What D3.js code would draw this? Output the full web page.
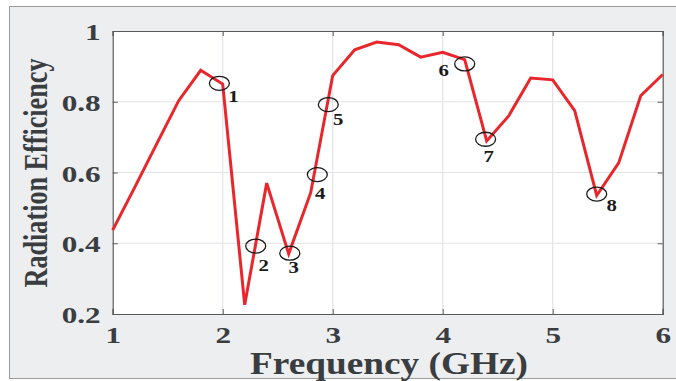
<!DOCTYPE html>
<html>
<head>
<meta charset="utf-8">
<script src="https://cdn.jsdelivr.net/npm/d3@7"></script>
<style>
  html, body { margin: 0; padding: 0; background: #fff; }
  svg { display: block; }
</style>
</head>
<body>
<svg id="mainSVG" width="676" height="381"></svg>
<script>
// data
var freq = [1.0, 1.2, 1.4, 1.6, 1.8, 2.0, 2.2, 2.4, 2.6, 2.8, 3.0, 3.2, 3.4,
            3.6, 3.8, 4.0, 4.2, 4.4, 4.6, 4.8, 5.0, 5.2, 5.4, 5.6, 5.8, 6.0];
var efficiency = [0.437, 0.558, 0.681, 0.803, 0.889, 0.850, 0.226, 0.570, 0.370, 0.543,
                  0.874, 0.947, 0.969, 0.961, 0.926, 0.940, 0.919, 0.689, 0.760, 0.867,
                  0.862, 0.775, 0.535, 0.627, 0.817, 0.877];

// circled points and their numbers
var markFreq = [1.97, 2.30, 2.61, 2.86, 2.96, 4.20, 4.39, 5.40];
var markEff = [0.852, 0.392, 0.372, 0.594, 0.792, 0.907, 0.694, 0.539];
var markLabel = ["1", "2", "3", "4", "5", "6", "7", "8"];
// label offset from circle centre (px)
var labelDx = [14, 8, 4, 3, 10, -21, 3, 15];
var labelDy = [19, 25, 20, 24, 20, 12, 23, 17];

var xTicks = [1, 2, 3, 4, 5, 6];
var yTicks = [0.2, 0.4, 0.6, 0.8, 1];

var margin = {left: 112.7, right: 13.3, top: 31, bottom: 67};
var W = 676, H = 381;
var stretch = 1.3;   // the source figure is stretched sideways
var serif = "Liberation Serif, Times New Roman, serif";

var svg = d3.select("#mainSVG");

// grey panel
svg.append("rect")
  .attr("x", 9.5).attr("y", 6.5)
  .attr("width", 680).attr("height", 372)
  .attr("fill", "#edeef0")
  .attr("stroke", "#9a9a9a").attr("stroke-width", 1);

var x = d3.scaleLinear().domain([1, 6]).range([margin.left, W - margin.right]);
var y = d3.scaleLinear().domain([0.2, 1]).range([H - margin.bottom, margin.top]);

svg.append("rect")
  .attr("x", x(1)).attr("y", y(1))
  .attr("width", x(6) - x(1)).attr("height", y(0.2) - y(1))
  .attr("fill", "#fff");

// grid
var grid = svg.append("g");
grid.selectAll(".gx").data(xTicks.slice(1, -1)).enter().append("line")
  .attr("x1", function(d){ return x(d); }).attr("x2", function(d){ return x(d); })
  .attr("y1", y(0.2)).attr("y2", y(1))
  .attr("stroke", "#e2e3e6").attr("stroke-width", 1.2);
grid.selectAll(".gy").data(yTicks.slice(1, -1)).enter().append("line")
  .attr("y1", function(d){ return y(d); }).attr("y2", function(d){ return y(d); })
  .attr("x1", x(1)).attr("x2", x(6))
  .attr("stroke", "#e2e3e6").attr("stroke-width", 1.2);

// axes (ticks inward, MATLAB style)
var xAxis = svg.append("g")
  .attr("transform", "translate(0," + y(0.2) + ")")
  .call(d3.axisBottom(x).tickValues(xTicks).tickSize(-5).tickPadding(12).tickFormat(d3.format("d")));
var yAxis = svg.append("g")
  .attr("transform", "translate(" + x(1) + ",0)")
  .call(d3.axisLeft(y).tickValues(yTicks).tickSize(-5).tickPadding(12)
        .tickFormat(function(d){ return d === 1 ? "1" : d3.format(".1f")(d); }));
svg.append("g")
  .attr("transform", "translate(0," + y(1) + ")")
  .call(d3.axisTop(x).tickValues(xTicks).tickSize(-5).tickFormat(""));
svg.append("g")
  .attr("transform", "translate(" + x(6) + ",0)")
  .call(d3.axisRight(y).tickValues(yTicks).tickSize(-5).tickFormat(""));

svg.selectAll(".domain").attr("stroke", "#5a5a5a").attr("stroke-width", 1.2);
svg.selectAll(".tick line").attr("stroke", "#5a5a5a").attr("stroke-width", 1);

xAxis.selectAll("text")
  .attr("font-family", serif)
  .attr("font-weight", "bold").attr("font-size", 24).attr("fill", "#3a3d3f")
  .attr("transform", "scale(" + stretch + ",1)");

yAxis.selectAll("text")
  .attr("font-family", serif)
  .attr("font-weight", "bold").attr("font-size", 24).attr("fill", "#3a3d3f")
  .attr("x", -12 / stretch)
  .attr("dy", "0.36em")
  .attr("transform", "scale(" + stretch + ",1)");

// curve
svg.append("path")
  .datum(d3.range(freq.length))
  .attr("fill", "none")
  .attr("stroke", "#e8262b")
  .attr("stroke-width", 3)
  .attr("d", d3.line().x(function(i){ return x(freq[i]); }).y(function(i){ return y(efficiency[i]); }));

// circles and numbers
var marks = svg.append("g");
markFreq.forEach(function(f, i){
  var cx = x(f), cy = y(markEff[i]);
  marks.append("ellipse")
    .attr("cx", cx).attr("cy", cy).attr("rx", 10).attr("ry", 7)
    .attr("fill", "none").attr("stroke", "#1a1a1a").attr("stroke-width", 1.3);
  marks.append("text")
    .attr("transform", "translate(" + (cx + labelDx[i]) + "," + (cy + labelDy[i]) + ") scale(" + stretch + ",1)")
    .attr("text-anchor", "middle")
    .attr("font-family", serif)
    .attr("font-weight", "bold").attr("font-size", 16).attr("fill", "#1a1a1a")
    .text(markLabel[i]);
});

// axis titles
svg.append("text")
  .attr("x", 389).attr("y", 374)
  .attr("text-anchor", "middle")
  .attr("font-family", serif)
  .attr("font-weight", "bold").attr("font-size", 31).attr("fill", "#3a3d3f")
  .attr("textLength", 278).attr("lengthAdjust", "spacingAndGlyphs")
  .text("Frequency (GHz)");

svg.append("text")
  .attr("transform", "translate(47,173) rotate(-90) scale(0.77,1)")
  .attr("text-anchor", "middle")
  .attr("font-family", serif)
  .attr("font-weight", "bold").attr("font-size", 34).attr("fill", "#3a3d3f")
  .text("Radiation Efficiency");
</script>
</body>
</html>
